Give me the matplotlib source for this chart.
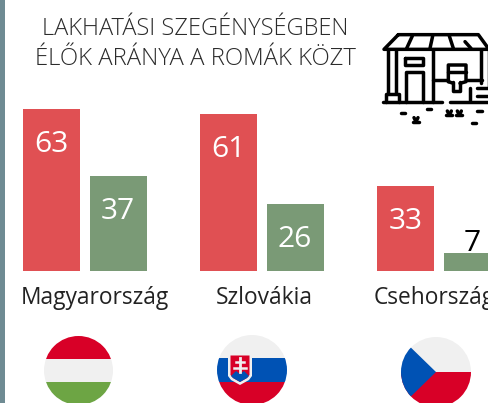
import matplotlib
matplotlib.use("Agg")
import matplotlib.pyplot as plt
from matplotlib.patches import Circle, Rectangle, Polygon

countries = ["Magyarország", "Szlovákia", "Csehország"]
red_values = [63, 61, 33]
green_values = [37, 26, 7]
title_lines = ["LAKHATÁSI SZEGÉNYSÉGBEN", "ÉLŐK ARÁNYA A ROMÁK KÖZT"]

plt.rcParams['font.family'] = ['Open Sans', 'DejaVu Sans']
W, H = 489, 403
fig = plt.figure(figsize=(W/100, H/100), dpi=100)

# bar axes: x unit = one country group, y unit = one percent
GROUP = 177.0; PX = 2.571; BASE = 271.0; X0 = 51.5
ax = fig.add_axes([0, 0, 1, 1])
ax.set_xlim(-X0/GROUP, (W-X0)/GROUP)
ax.set_ylim(-(H-BASE)/PX, BASE/PX)
ax.axis('off')
bw = 57/GROUP; off = 66.5/GROUP
RED = '#e05053'; GREEN = '#7a9a76'
for i, (r, g) in enumerate(zip(red_values, green_values)):
    ax.bar(i, r, bw, color=RED, align='center')
    ax.bar(i+off, g, bw, color=GREEN, align='center')
    ax.text(i, r-16.8, str(r), color='white', fontsize=21.5, ha='center', va='baseline')
    if g > 12:
        ax.text(i+off, g-16.8, str(g), color='white', fontsize=21.5, ha='center', va='baseline')
    else:
        ax.text(i+off, g+0.8, str(g), color='black', fontsize=21.5, ha='center', va='baseline')

# overlay in pixel coordinates for decoration
ov = fig.add_axes([0, 0, 1, 1], facecolor='none')
ov.set_xlim(0, W); ov.set_ylim(H, 0); ov.axis('off')
ov.add_patch(Rectangle((0, 0), 5, H, color='#6f8b93', lw=0))
ov.text(195, 35, title_lines[0], color='#2b2b2b', fontsize=17.0, ha='center', va='baseline', fontweight='light')
ov.text(195, 65, title_lines[1], color='#2b2b2b', fontsize=17.2, ha='center', va='baseline', fontweight='light')
for c, x in zip(countries, [94.5, 264, 434]):
    ov.text(x, 304, c, color='#222222', fontsize=16.4, ha='center', va='baseline', clip_on=False)

def flag(cx, cy, r, draw):
    clip = Circle((cx, cy), r, transform=ov.transData)
    for p in draw(cx, cy, r):
        ov.add_patch(p)
        p.set_clip_path(clip)

def hu(cx, cy, r):
    return [Rectangle((cx-r, cy-r), 2*r, 22.5, color='#d80027', lw=0),
            Rectangle((cx-r, cy-r+22.5), 2*r, 23.5, color='#f0f0f0', lw=0),
            Rectangle((cx-r, cy-r+46), 2*r, 2*r-46, color='#6da544', lw=0)]
def sk(cx, cy, r):
    return [Rectangle((cx-r, cy-r), 2*r, 23, color='#f0f0f0', lw=0),
            Rectangle((cx-r, cy-r+23), 2*r, 24, color='#0052b4', lw=0),
            Rectangle((cx-r, cy-r+47), 2*r, 2*r-47, color='#d80027', lw=0)]
def cz(cx, cy, r):
    return [Rectangle((cx-r, cy-r), 2*r, r, color='#f0f0f0', lw=0),
            Rectangle((cx-r, cy), 2*r, r, color='#d80027', lw=0),
            Polygon([(cx-r-1, cy-r), (cx, cy), (cx-r-1, cy+r)], color='#0052b4', lw=0)]
flag(78.5, 370.5, 34.5, hu)
flag(252, 370, 35, sk)
flag(436, 372, 35, cz)

# Slovak shield
ov.add_patch(Polygon([(228, 354), (252, 354), (252, 376), (249, 380), (240, 385), (231, 380), (228, 376)],
                     closed=True, fc='#f0f0f0', lw=0))
ov.add_patch(Polygon([(230.5, 355.5), (249.5, 355.5), (249.5, 375), (247, 378), (240, 382), (233, 378), (230.5, 375)],
                     closed=True, fc='#d80027', lw=0))
ov.add_patch(Polygon([(231, 376), (236, 371), (240, 374), (244, 371), (249, 376), (247, 378), (240, 382), (233, 378)],
                     closed=True, fc='#0052b4', lw=0))
ov.plot([239.5, 239.5], [358, 372], color='#f0f0f0', lw=2)
ov.plot([235.5, 243.5], [362, 362], color='#f0f0f0', lw=1.8)
ov.plot([233.5, 245.5], [368, 368], color='#f0f0f0', lw=1.8)

# house icon, traced in crop coordinates
def z(pts):
    return [(370+x/3, 20+y/3) for x, y in pts]
def ln(pts, lw=2.5):
    xs, ys = zip(*z(pts))
    ov.plot(xs, ys, color='black', lw=lw, solid_capstyle='round', solid_joinstyle='round')
ln([(85,44),(325,44),(357,88),(42,88),(85,44)])
ln([(127,48),(110,85)]); ln([(188,48),(180,85)]); ln([(238,48),(250,85)]); ln([(285,65),(303,85)])
ln([(55,90),(55,220)]); ln([(77,90),(77,220)])
ln([(189,90),(189,245)]); ln([(332,90),(332,190)]); ln([(357,90),(357,200)])
ln([(105,115),(158,115),(158,135),(105,135),(105,115)])
ln([(107,245),(107,155),(160,155),(160,245)])
ln([(48,245),(48,222),(88,222),(88,245)])
ln([(40,246),(215,246)]); ln([(240,246),(357,246)])
ln([(190,180),(235,180)]); ln([(290,180),(335,180)])
ln([(235,185),(235,135),(288,135),(288,185),(270,190)])
ln([(235,155),(288,155)])
ln([(235,185),(250,190)])
ln([(250,185),(250,212),(270,212),(270,185)])
ln([(300,205),(300,240)]); ln([(320,205),(357,205)]); ln([(320,228),(357,228)])
for s in [[(92,278),(105,278)],[(170,268),(182,268)],[(322,274),(335,274)],[(307,308),(318,308)]]:
    ln(s)
for x0 in [138, 238, 268]:
    y = 305 if x0 == 138 else 285
    ln([(x0-9,y),(x0+9,y)]); ln([(x0-6,y-12),(x0,y)]); ln([(x0+6,y-12),(x0,y)])

fig.savefig("out.png", dpi=100)
